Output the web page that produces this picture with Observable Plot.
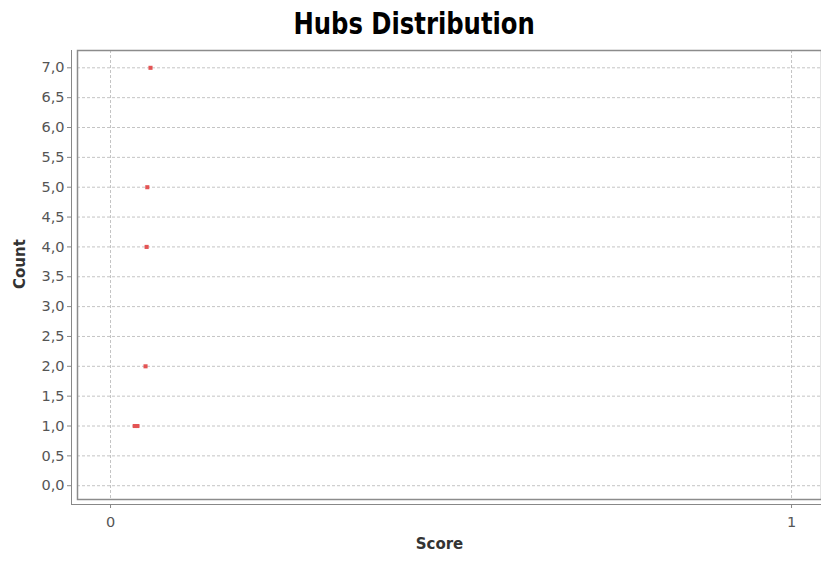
<!DOCTYPE html>
<html>
<head>
<meta charset="utf-8">
<script src="https://cdn.jsdelivr.net/npm/d3@7"></script>
<script src="https://cdn.jsdelivr.net/npm/@observablehq/plot@0.6"></script>
<style>
  html, body { margin: 0; padding: 0; background: #ffffff; }
  #wrap { width: 821px; height: 565px; overflow: hidden; position: relative; }
  #title {
    height: 45px; line-height: 48px; text-align: center;
    font-family: "DejaVu Sans Condensed", "DejaVu Sans", sans-serif;
    font-stretch: condensed; font-weight: bold; font-size: 30px; color: #000;
    padding-left: 8px; box-sizing: border-box;
  }
  #title span { display: inline-block; transform: scale(0.9, 1); transform-origin: center; }
</style>
</head>
<body>
<div id="wrap">
  <div id="title"><span>Hubs Distribution</span></div>
  <div id="chart"></div>
</div>
<script>
// Data
const scores = [0.0355, 0.0395, 0.0514, 0.053, 0.054, 0.0587];
const counts = [1, 1, 2, 4, 5, 7];
const yTicks = [0, 0.5, 1, 1.5, 2, 2.5, 3, 3.5, 4, 4.5, 5, 5.5, 6, 6.5, 7];
const xTicks = [0, 1];
const xLabel = "Score";
const yLabel = "Count";

const data = scores.map((s, i) => ({score: s, count: counts[i]}));
const xDomain = [-0.0485, 1.044];
const yDomain = [-0.231, 7.29];
const fmt = d => d.toFixed(1).replace(".", ",");
const tickFont = {fontSize: 14.5, fill: "#555"};

const chart = Plot.plot({
  width: 821,
  height: 520,
  marginTop: 5,
  marginBottom: 66,
  marginLeft: 77,
  marginRight: 0,
  style: {fontFamily: "'DejaVu Sans', sans-serif", background: "#ffffff", overflow: "visible"},
  x: {domain: xDomain, axis: null},
  y: {domain: yDomain, axis: null},
  marks: [
    Plot.gridY(yTicks, {stroke: "#c4c4c4", strokeOpacity: 1, strokeDasharray: "3,2"}),
    Plot.gridX(xTicks, {stroke: "#c4c4c4", strokeOpacity: 1, strokeDasharray: "3,2"}),
    Plot.frame({stroke: "#8c8c8c", strokeWidth: 1.5}),
    // y axis line (offset left of the plot frame)
    Plot.ruleX([xDomain[0]], {dx: -6, stroke: "#888", strokeWidth: 1, insetBottom: -6}),
    // x axis line (offset below the plot frame)
    Plot.ruleY([yDomain[0]], {dy: 5, stroke: "#888", strokeWidth: 1, insetLeft: -6}),
    Plot.axisY(yTicks, {anchor: "left", tickFormat: fmt, tickSize: 4, tickPadding: 3, dx: -6,
      stroke: "#888", ...tickFont, label: null}),
    Plot.axisX(xTicks, {anchor: "bottom", tickFormat: d => String(d), tickSize: 4, tickPadding: 8, dy: 5,
      stroke: "#888", ...tickFont, label: null}),
    Plot.text([yLabel], {frameAnchor: "left", text: d => d, rotate: -90, dx: -57, dy: 14,
      fontSize: 15, fontWeight: "bold", fill: "#333"}),
    Plot.text([xLabel], {frameAnchor: "bottom", text: d => d, dx: -10, dy: 49,
      fontSize: 15, fontWeight: "bold", fill: "#333"}),
    Plot.dot(data, {x: "score", y: "count", symbol: "square", r: 2.3, fill: "#e45454", stroke: "none"})
  ]
});
document.getElementById("chart").appendChild(chart);
</script>
</body>
</html>
